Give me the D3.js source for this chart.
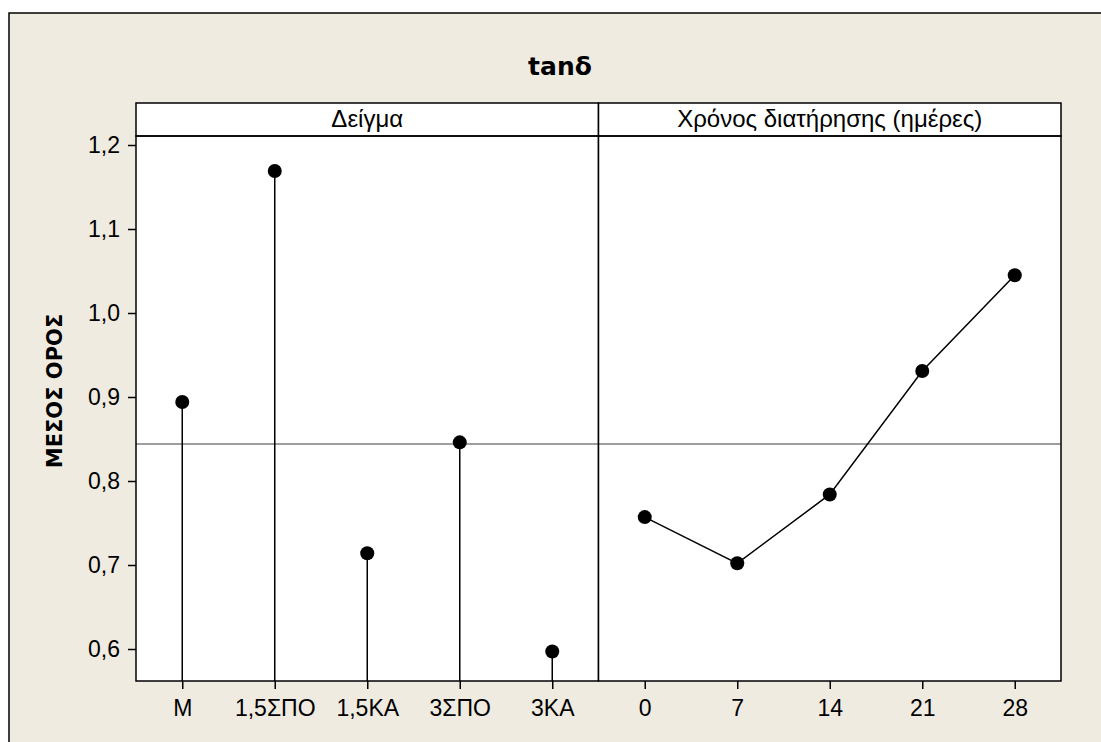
<!DOCTYPE html>
<html>
<head>
<meta charset="utf-8">
<script src="https://cdn.jsdelivr.net/npm/d3@7"></script>
<style>
  body { margin: 0; background: #fff; }
  text { font-family: "Liberation Sans", Arial, sans-serif; fill: #000; }
  .bold { font-family: "DejaVu Sans", Verdana, sans-serif; font-weight: bold; }
</style>
</head>
<body>
<svg id="chart" width="1101" height="742"></svg>
<script>
// data
const title = "tanδ";
const yLabel = "ΜΕΣΟΣ ΟΡΟΣ";
const samples = ["M", "1,5ΣΠΟ", "1,5KA", "3ΣΠΟ", "3KA"];
const sampleMeans = [0.894, 1.169, 0.714, 0.846, 0.597];
const days = ["0", "7", "14", "21", "28"];
const dayMeans = [0.757, 0.702, 0.784, 0.931, 1.045];
const yTicks = [0.6, 0.7, 0.8, 0.9, 1.0, 1.1, 1.2];
const panelTitles = ["Δείγμα", "Χρόνος διατήρησης (ημέρες)"];

const grandMean = d3.mean(sampleMeans);

const svg = d3.select("#chart");
const bg = "#efebe1";

// plot area
const plotLeft = 136, plotTop = 136, plotBottom = 681, stripH = 33;
const panelW = 462.5;

const y = d3.scaleLinear().domain([0.6, 1.2]).range([649, 145]);
const fmt = d3.formatLocale({ decimal: ",", thousands: ".", grouping: [3], currency: ["", ""] }).format(".1f");

// outer frame
svg.append("rect")
  .attr("x", 9).attr("y", 13)
  .attr("width", 1200).attr("height", 800)
  .attr("fill", bg).attr("stroke", "#000").attr("stroke-width", 1.5);

svg.append("text")
  .attr("class", "bold")
  .attr("x", 560).attr("y", 75)
  .attr("text-anchor", "middle")
  .style("font-size", "25px")
  .text(title);

svg.append("text")
  .attr("class", "bold")
  .attr("transform", `translate(62,391) rotate(-90)`)
  .attr("text-anchor", "middle")
  .style("font-size", "21px")
  .text(yLabel);

const panels = [
  { cats: samples, vals: sampleMeans, type: "stem" },
  { cats: days, vals: dayMeans, type: "line" }
];

panels.forEach(function (p, i) {
  const x0 = plotLeft + i * panelW;
  const g = svg.append("g").attr("transform", `translate(${x0},0)`);
  const x = d3.scalePoint().domain(p.cats).range([0, panelW]).padding(0.5);

  g.append("rect")
    .attr("x", 0).attr("y", plotTop - stripH)
    .attr("width", panelW).attr("height", plotBottom - plotTop + stripH)
    .attr("fill", "#fff");

  // reference line at the overall mean
  g.append("line")
    .attr("x1", 0).attr("x2", panelW)
    .attr("y1", y(grandMean)).attr("y2", y(grandMean))
    .attr("stroke", "#7f7f7f").attr("stroke-width", 1.5);

  const pts = p.cats.map((c, j) => ({ c: c, v: p.vals[j] }));

  if (p.type === "stem") {
    g.selectAll(".stem").data(pts).enter().append("line")
      .attr("class", "stem")
      .attr("x1", d => x(d.c)).attr("x2", d => x(d.c))
      .attr("y1", plotBottom).attr("y2", d => y(d.v))
      .attr("stroke", "#000").attr("stroke-width", 1.5);
  } else {
    const line = d3.line().x(d => x(d.c)).y(d => y(d.v));
    g.append("path").datum(pts)
      .attr("d", line)
      .attr("fill", "none").attr("stroke", "#000").attr("stroke-width", 1.5);
  }

  g.selectAll(".pt").data(pts).enter().append("circle")
    .attr("class", "pt")
    .attr("cx", d => x(d.c)).attr("cy", d => y(d.v))
    .attr("r", 7).attr("fill", "#000");

  // strip
  g.append("rect")
    .attr("x", 0).attr("y", plotTop - stripH)
    .attr("width", panelW).attr("height", stripH)
    .attr("fill", "none").attr("stroke", "#000").attr("stroke-width", 1.5);
  g.append("text")
    .attr("x", panelW / 2).attr("y", plotTop - 9)
    .attr("text-anchor", "middle")
    .style("font-size", "24px")
    .text(panelTitles[i]);

  // panel border
  g.append("rect")
    .attr("x", 0).attr("y", plotTop)
    .attr("width", panelW).attr("height", plotBottom - plotTop)
    .attr("fill", "none").attr("stroke", "#000").attr("stroke-width", 1.5);

  const xAxis = d3.axisBottom(x).tickSize(8).tickSizeOuter(0).tickPadding(10.5);
  const xa = g.append("g").attr("transform", `translate(0,${plotBottom})`).call(xAxis);
  xa.select(".domain").remove();
  xa.selectAll("line").attr("stroke-width", 1.5);
  xa.selectAll("text").style("font-size", "23px").attr("font-family", null);
});

const yAxis = d3.axisLeft(y).tickValues(yTicks).tickFormat(fmt).tickSize(8).tickSizeOuter(0).tickPadding(8);
const ya = svg.append("g").attr("transform", `translate(${plotLeft},0)`).call(yAxis);
ya.select(".domain").remove();
ya.selectAll("line").attr("stroke-width", 1.5);
ya.selectAll("text").style("font-size", "23px").attr("font-family", null);
</script>
</body>
</html>
